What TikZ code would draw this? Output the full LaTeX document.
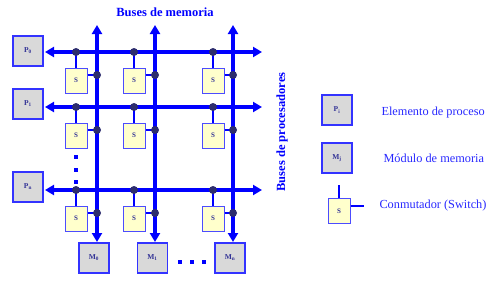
\documentclass[tikz,border=0pt]{standalone}
\usepackage{fontspec}
\setmainfont{Liberation Serif}
\usetikzlibrary{arrows.meta}
\definecolor{busblue}{RGB}{0,0,255}
\definecolor{dotnavy}{RGB}{45,45,110}
\definecolor{labnavy}{RGB}{50,50,150}
\definecolor{sfill}{RGB}{255,255,204}
\definecolor{pfill}{RGB}{217,217,217}
\definecolor{txtblue}{RGB}{40,40,255}
\tikzset{
  bus/.style={line width=3.8pt,busblue,{Triangle[length=9pt,width=10pt]}-{Triangle[length=9pt,width=10pt]}},
  conn/.style={line width=2.8pt,busblue},
  sbox/.style={draw=busblue!70,line width=1pt,fill=sfill,minimum width=22pt,minimum height=25pt,inner sep=0pt,font=\fontsize{7}{8}\selectfont\bfseries,text=labnavy},
  pbox/.style={draw=busblue!80,line width=1.2pt,fill=pfill,minimum width=30pt,minimum height=30pt,inner sep=0pt,font=\fontsize{7.5}{8}\selectfont\bfseries,text=labnavy},
  jdot/.style={circle,fill=dotnavy,inner sep=0pt,minimum size=8pt},
  edot/.style={rectangle,fill=busblue,inner sep=0pt,minimum size=4pt},
  title/.style={font=\fontsize{12.5}{14}\selectfont\bfseries,text=busblue},
  legend/.style={font=\fontsize{12.3}{14}\selectfont,text=txtblue,anchor=west}
}
\begin{document}
\begin{tikzpicture}[x=1pt,y=-1pt]
\useasboundingbox (0,0) rectangle (494,281);
% titles
\node[title] (tm) at (165,12) {Buses de memoria};
\node[title,rotate=90] (tp) at (282,132) {Buses de procesadores};
% processor boxes
\node[pbox] (p0) at (28,51) {P$_{\mathbf 0}$};
\node[pbox] (p1) at (28,104) {P$_{\mathbf 1}$};
\node[pbox] (pn) at (28,187) {P$_{\mathbf n}$};
% memory boxes
\node[pbox] (m0) at (94,258) {M$_{\mathbf 0}$};
\node[pbox] (m1) at (152.5,258) {M$_{\mathbf 1}$};
\node[pbox] (mn) at (230,258) {M$_{\mathbf n}$};
% bus end coordinates
\coordinate (h0r) at (262,52);
\coordinate (h1r) at (262,107);
\coordinate (hnr) at (262,190);
\coordinate (v0t) at (97,25);
\coordinate (v1t) at (155,25);
\coordinate (vnt) at (233,25);
\coordinate (h0l) at (45,52);
\coordinate (h1l) at (45,107);
\coordinate (hnl) at (45,190);
\coordinate (v0b) at (97,242);
\coordinate (v1b) at (155,242);
\coordinate (vnb) at (233,242);
% buses
\draw[bus] (h0l) -- (h0r);
\draw[bus] (h1l) -- (h1r);
\draw[bus] (hnl) -- (hnr);
\draw[bus] (v0t) -- (v0b);
\draw[bus] (v1t) -- (v1b);
\draw[bus] (vnt) -- (vnb);
% switches
\foreach \r/\by in {0/52,1/107,n/190}{
  \foreach \c/\bx/\sx in {0/97/76,1/155/134,n/233/213}{
    \coordinate (jc\r\c) at (\bx,\by+23);
    \node[sbox] (s\r\c) at (\sx,\by+28.5) {S};
    \coordinate (ja\r\c) at (\sx,\by);
    \draw[conn] (ja\r\c) -- (s\r\c.north);
    \draw[conn] (s\r\c.east |- jc\r\c) -- (jc\r\c);
    \node[jdot] (jd\r\c) at (ja\r\c) {};
    \node[jdot] (jb\r\c) at (jc\r\c) {};
  }
}
% ellipsis dots
\node[edot] (d1) at (76,157) {};
\node[edot] (d2) at (76,170) {};
\node[edot] (d3) at (76,182) {};
\node[edot] (e1) at (180,262) {};
\node[edot] (e2) at (192,262) {};
\node[edot] (e3) at (204,262) {};
% legend
\node[pbox] (lp) at (337,110) {P$_{\mathbf i}$};
\node[legend] (lpt) at (378,113) {Elemento de proceso};
\node[pbox] (lm) at (337,158) {M$_{\mathbf j}$};
\node[legend] (lmt) at (380,158) {Módulo de memoria};
\node[sbox] (ls) at (339,211) {S};
\coordinate (lst) at (339,185);
\coordinate (lsr) at (364,206);
\draw[conn] (lst) -- (ls.north);
\draw[conn] (ls.east |- lsr) -- (lsr);
\node[legend] (lst2) at (376,206) {Conmutador (Switch)};
\end{tikzpicture}
\end{document}
